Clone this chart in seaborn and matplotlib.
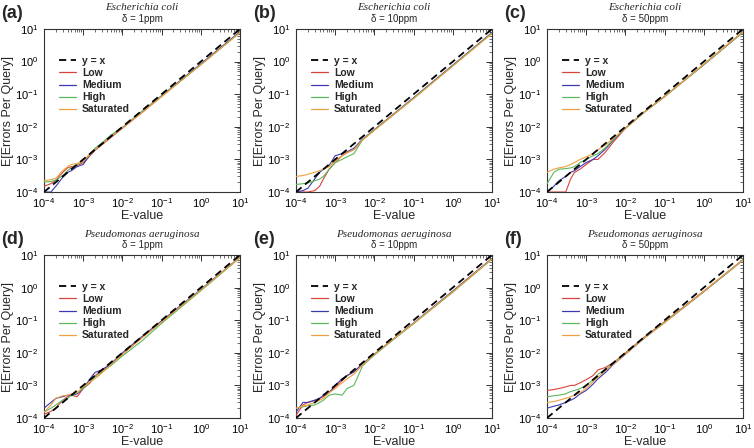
import matplotlib
matplotlib.use("Agg")
import matplotlib.pyplot as plt
from matplotlib.lines import Line2D
import seaborn as sns
import pandas as pd
import numpy as np
from matplotlib.ticker import LogLocator, NullFormatter

# ---------------- data ----------------
evalues = [1e-4, 1.5e-4, 2e-4, 3e-4, 4e-4, 5e-4, 7e-4, 1e-3, 1.5e-3, 2e-3, 3e-3,
           5e-3, 1e-2, 3e-2, 1e-1, 1.0, 10.0]
diag = [1e-4, 1e-3, 1e-2, 1e-1, 1.0, 10.0]

series_names = ["Low", "Medium", "High", "Saturated"]
panel_letters = ["(a)", "(b)", "(c)", "(d)", "(e)", "(f)"]
organisms = ["Escherichia coli"] * 3 + ["Pseudomonas aeruginosa"] * 3
deltas = ["δ = 1ppm", "δ = 10ppm", "δ = 50ppm", "δ = 1ppm", "δ = 10ppm", "δ = 50ppm"]

a_low = [1.5e-4, 1.8e-4, 2.3e-4, 4e-4, 5.5e-4, 6e-4, 6.5e-4, 8e-4, 1.3e-3, 1.9e-3, 2.8e-3, 4.6e-3, 9e-3, 2.6e-2, 8.5e-2, 0.82, 8.0]
a_med = [1.0e-4, 1.0e-4, 1.5e-4, 2.8e-4, 4e-4, 4.5e-4, 6e-4, 7e-4, 1.4e-3, 2e-3, 3e-3, 5e-3, 9.5e-3, 2.8e-2, 9e-2, 0.85, 8.3]
a_high = [2.0e-4, 2.1e-4, 2.3e-4, 3.2e-4, 4.5e-4, 5.5e-4, 7e-4, 9e-4, 1.5e-3, 2.2e-3, 3.2e-3, 5.5e-3, 9.5e-3, 2.8e-2, 8.8e-2, 0.8, 7.8]
a_sat = [2.2e-4, 2.4e-4, 2.6e-4, 4.5e-4, 6e-4, 7e-4, 7.5e-4, 9e-4, 1.4e-3, 2e-3, 3e-3, 4.8e-3, 9.2e-3, 2.6e-2, 8.5e-2, 0.8, 7.8]

b_low = [1.0e-4, 1.0e-4, 1.0e-4, 1.1e-4, 1.5e-4, 2.5e-4, 5e-4, 8e-4, 1.3e-3, 1.6e-3, 2e-3, 4e-3, 8e-3, 2.3e-2, 7.5e-2, 0.75, 7.5]
b_med = [1.0e-4, 1.1e-4, 1.3e-4, 2.5e-4, 4e-4, 5e-4, 6.5e-4, 1.3e-3, 1.5e-3, 1.7e-3, 2.2e-3, 4.2e-3, 8.2e-3, 2.4e-2, 7.8e-2, 0.78, 7.8]
b_high = [1.7e-4, 1.8e-4, 1.9e-4, 2.2e-4, 2.5e-4, 3e-4, 5e-4, 8e-4, 1e-3, 1.2e-3, 1.5e-3, 4e-3, 8e-3, 2.3e-2, 7.5e-2, 0.75, 7.5]
b_sat = [3e-4, 3.2e-4, 3.5e-4, 4e-4, 4.5e-4, 5e-4, 6e-4, 9e-4, 1.3e-3, 1.6e-3, 2e-3, 4e-3, 7.8e-3, 2.3e-2, 7.3e-2, 0.73, 7.3]

c_low = [1.0e-4, 1.0e-4, 1.0e-4, 1.0e-4, 2.5e-4, 4e-4, 5e-4, 7e-4, 1e-3, 1e-3, 1.6e-3, 3.5e-3, 9e-3, 2.8e-2, 8.5e-2, 0.82, 8.2]
c_med = [1.0e-4, 1.5e-4, 2.2e-4, 3e-4, 4e-4, 4.5e-4, 6e-4, 8e-4, 1e-3, 1.3e-3, 2e-3, 4e-3, 9e-3, 2.8e-2, 8.5e-2, 0.8, 8.0]
c_high = [1.8e-4, 4e-4, 5e-4, 5.2e-4, 5.5e-4, 6e-4, 8e-4, 1e-3, 1.3e-3, 1.5e-3, 2.2e-3, 4.2e-3, 9e-3, 2.8e-2, 8.5e-2, 0.8, 8.0]
c_sat = [4e-4, 5e-4, 5.5e-4, 6e-4, 7e-4, 8e-4, 1e-3, 1.2e-3, 1.5e-3, 2e-3, 2.7e-3, 4.5e-3, 9e-3, 2.8e-2, 8.5e-2, 0.82, 8.2]

d_low = [1.3e-4, 1.6e-4, 2e-4, 3.5e-4, 4.5e-4, 5e-4, 4.5e-4, 8e-4, 1.2e-3, 2e-3, 2.8e-3, 4.5e-3, 9e-3, 2.8e-2, 9e-2, 0.85, 8.5]
d_med = [2e-4, 3e-4, 4e-4, 4.5e-4, 5e-4, 5e-4, 5.5e-4, 8e-4, 1.6e-3, 2.5e-3, 3e-3, 4.5e-3, 1e-2, 3e-2, 9.5e-2, 0.88, 8.5]
d_high = [1.5e-4, 2e-4, 2.5e-4, 3.5e-4, 4e-4, 5e-4, 6e-4, 8e-4, 1.3e-3, 1.8e-3, 2.5e-3, 4e-3, 8e-3, 2.2e-2, 8e-2, 0.8, 8.3]
d_sat = [1.5e-4, 2.5e-4, 4e-4, 4.8e-4, 5e-4, 5.5e-4, 6e-4, 9e-4, 1.3e-3, 1.6e-3, 2.4e-3, 4.3e-3, 9e-3, 2.7e-2, 8.8e-2, 0.85, 8.5]

e_low = [1.2e-4, 2.5e-4, 3e-4, 3.5e-4, 4e-4, 4.5e-4, 6e-4, 9e-4, 1.4e-3, 2e-3, 2.6e-3, 4.5e-3, 9e-3, 2.6e-2, 8e-2, 0.78, 7.8]
e_med = [1.5e-4, 3e-4, 3e-4, 3.5e-4, 4e-4, 5e-4, 6e-4, 1e-3, 1.6e-3, 2e-3, 2.6e-3, 4.6e-3, 9e-3, 2.6e-2, 8.2e-2, 0.78, 7.8]
e_high = [2e-4, 2.2e-4, 2.4e-4, 2.5e-4, 3e-4, 3.5e-4, 5e-4, 5.5e-4, 5e-4, 8e-4, 1e-3, 4e-3, 8.5e-3, 2.5e-2, 7.8e-2, 0.72, 7.5]
e_sat = [2e-4, 2.3e-4, 2.5e-4, 3e-4, 3.5e-4, 4e-4, 6e-4, 8e-4, 1.2e-3, 1.6e-3, 2.2e-3, 4.3e-3, 9e-3, 2.6e-2, 8e-2, 0.75, 7.6]

f_low = [7e-4, 7.5e-4, 8e-4, 9e-4, 1e-3, 1e-3, 1.2e-3, 1.5e-3, 2e-3, 3e-3, 3.5e-3, 5e-3, 1e-2, 3e-2, 9e-2, 0.78, 7.2]
f_med = [2e-4, 2.3e-4, 2.5e-4, 3e-4, 3.5e-4, 4e-4, 5.5e-4, 7e-4, 1.1e-3, 1.6e-3, 2.4e-3, 4.5e-3, 9e-3, 2.8e-2, 8.5e-2, 0.75, 7.0]
f_high = [4.5e-4, 4.8e-4, 5e-4, 5.5e-4, 6.5e-4, 7e-4, 8e-4, 1e-3, 1.5e-3, 2.2e-3, 3e-3, 4.8e-3, 9.5e-3, 2.9e-2, 8.5e-2, 0.75, 7.0]
f_sat = [3e-4, 3.2e-4, 3.5e-4, 4e-4, 4.5e-4, 5e-4, 6e-4, 8e-4, 1.3e-3, 1.8e-3, 2.8e-3, 4.6e-3, 9.2e-3, 2.8e-2, 8.5e-2, 0.76, 7.1]

panels = [
    [a_low, a_med, a_high, a_sat],
    [b_low, b_med, b_high, b_sat],
    [c_low, c_med, c_high, c_sat],
    [d_low, d_med, d_high, d_sat],
    [e_low, e_med, e_high, e_sat],
    [f_low, f_med, f_high, f_sat],
]

colors = {"Low": "#d8433a", "Medium": "#3a3ab0", "High": "#5cb85c", "Saturated": "#f0a040"}

# ---------------- plot ----------------
sns.set_theme(style="white")
plt.rcParams["font.family"] = ["Liberation Sans", "DejaVu Sans"]
plt.rcParams["mathtext.fontset"] = "custom"
plt.rcParams["mathtext.rm"] = "Liberation Sans"

fig = plt.figure(figsize=(7.54, 4.48), dpi=100)
W, H = 754.0, 448.0
lefts = [44, 296, 547]
tops = [29, 255]
aw, ah = 196, 163
dash = (0, (4, 2.5))

for i in range(6):
    r, c = divmod(i, 3)
    l = lefts[c]
    t = tops[r]
    ax = fig.add_axes([l / W, 1 - (t + ah) / H, aw / W, ah / H])

    sns.lineplot(x=diag, y=diag, ax=ax, color="black", lw=1.3, linestyle=dash,
                 legend=False, zorder=5)
    for name, ys in zip(series_names, panels[i]):
        df = pd.DataFrame({"E": evalues, "Err": ys})
        sns.lineplot(data=df, x="E", y="Err", ax=ax, color=colors[name], lw=0.8,
                     legend=False, estimator=None, sort=False, zorder=3)

    ax.set_xscale("log")
    ax.set_yscale("log")
    ax.set_xlim(1e-4, 10)
    ax.set_ylim(1e-4, 10)
    ax.xaxis.set_major_locator(LogLocator(base=10, numticks=10))
    ax.yaxis.set_major_locator(LogLocator(base=10, numticks=10))
    ax.xaxis.set_minor_locator(LogLocator(base=10, subs=np.arange(2, 10), numticks=10))
    ax.yaxis.set_minor_locator(LogLocator(base=10, subs=np.arange(2, 10), numticks=10))
    ax.xaxis.set_minor_formatter(NullFormatter())
    ax.yaxis.set_minor_formatter(NullFormatter())
    ax.tick_params(which="both", direction="in", top=True, right=True, colors="#333333",
                   labelcolor="black", labelsize=8)
    ax.tick_params(axis="x", pad=3)
    ax.tick_params(axis="y", pad=4)
    ax.tick_params(which="major", length=4, width=0.7)
    ax.tick_params(which="minor", length=2, width=0.5)
    for s in ax.spines.values():
        s.set_color("#333333")
        s.set_linewidth(0.8)
    ax.set_xlabel("E-value", fontsize=9, labelpad=0)
    ax.set_ylabel("E[Errors Per Query]", fontsize=9, labelpad=1)

    handles = [Line2D([], [], color="black", lw=1.3, linestyle=dash)]
    handles += [Line2D([], [], color=colors[n], lw=0.9) for n in series_names]
    labels = ["y = x"] + series_names
    leg = ax.legend(handles, labels, loc="upper left", bbox_to_anchor=(0.055, 0.86),
                    frameon=False, fontsize=7.5, handlelength=1.6, handletextpad=0.6,
                    labelspacing=0.2, borderaxespad=0)
    for txt in leg.get_texts():
        txt.set_fontweight("bold")

    cx = (l + aw / 2) / W
    fig.text(cx, 1 - (t - 21) / H, organisms[i], ha="center", va="center", fontsize=8,
             style="italic", family=["Liberation Serif", "DejaVu Serif"])
    fig.text(cx, 1 - (t - 10) / H, deltas[i], ha="center", va="center", fontsize=7)
    fig.text((l - 43) / W, 1 - (t - 16) / H, panel_letters[i], ha="left", va="center",
             fontsize=13, fontweight="bold")

fig.savefig("out.png", dpi=100)
